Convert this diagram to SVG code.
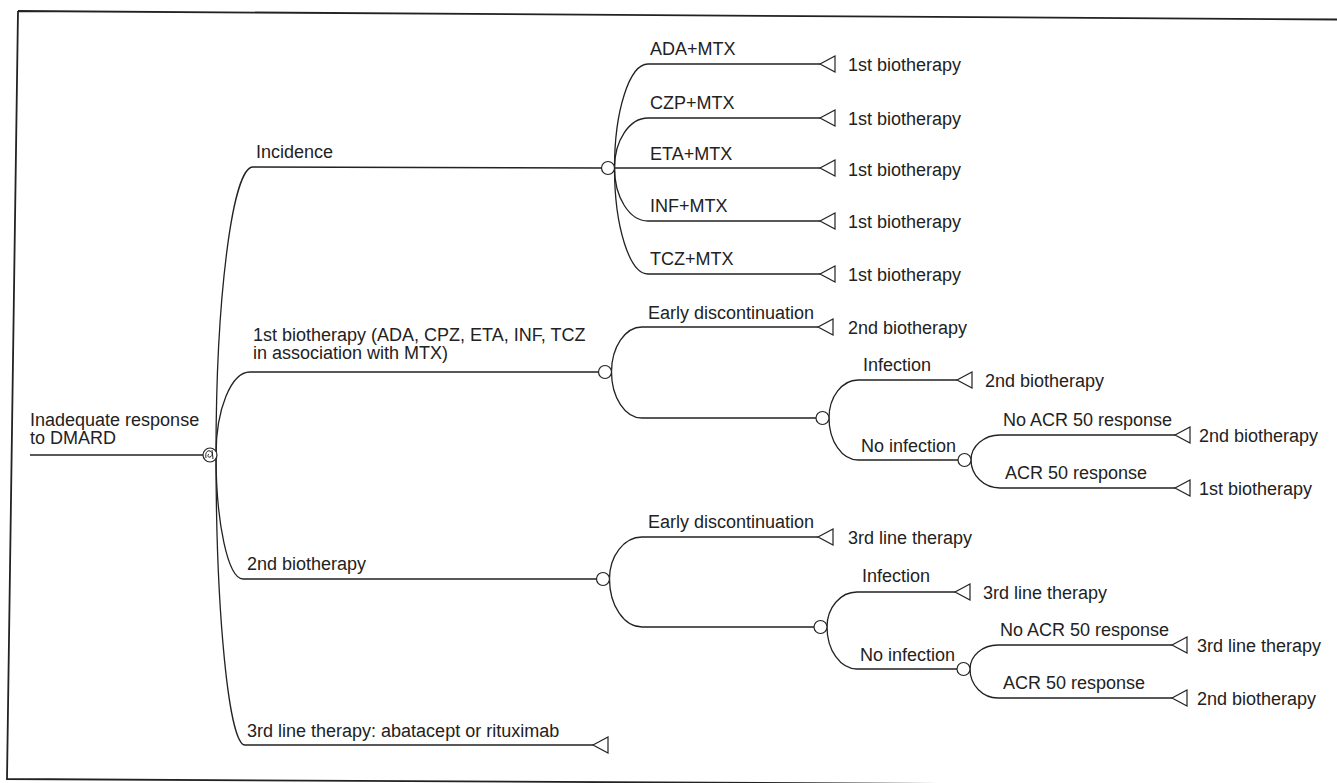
<svg xmlns="http://www.w3.org/2000/svg" width="1337" height="783" viewBox="0 0 1337 783">
<style>
.ln{fill:none;stroke:#222;stroke-width:1.3}
.nd{fill:#fff;stroke:#222;stroke-width:1.2}
.bd{fill:none;stroke:#222;stroke-width:1.8}
.t{font-family:"Liberation Sans",Arial,sans-serif;font-size:18px;fill:#222}
</style>
<defs>
<path id="tri" d="M0,0 L15,-8 L15,8 Z" fill="#fff" stroke="#222" stroke-width="1.2"/>
</defs>
<rect width="1337" height="783" fill="#fff"/>
<path class="bd" d="M18,11 L1337,19.5 M18,11 L7,779 L1337,786"/>

<g id="connectors">
<path class="ln" d="M30,455 H203"/>
<path class="ln" d="M216,455 A37,288 0 0 1 253,167 L601.5,168"/>
<path class="ln" d="M216,455 A34,83 0 0 1 250,372 H598.5"/>
<path class="ln" d="M216,455 A27,124 0 0 0 243,579 H596.5"/>
<path class="ln" d="M216,455 A29,290 0 0 0 245,745 H593"/>

<path class="ln" d="M614.5,168 A33.5,104 0 0 1 648,64 H820"/>
<path class="ln" d="M614.5,168 A33.5,50 0 0 1 648,118 H820"/>
<path class="ln" d="M614.5,168 H820"/>
<path class="ln" d="M614.5,168 A33.5,53 0 0 0 648,221 H820"/>
<path class="ln" d="M614.5,168 A33.5,106 0 0 0 648,274 H820"/>

<path class="ln" d="M611.5,372 A30.5,45 0 0 1 642,327 H818"/>
<path class="ln" d="M611.5,372 A30.5,46 0 0 0 642,418 H816"/>
<path class="ln" d="M829,418 A29,38 0 0 1 858,380 H957"/>
<path class="ln" d="M829,418 A29,42 0 0 0 858,460 H958"/>
<path class="ln" d="M971,460 A29,25 0 0 1 1000,435 H1175"/>
<path class="ln" d="M971,460 A29,28 0 0 0 1000,488 H1175"/>

<path class="ln" d="M609.5,579 A32.5,42 0 0 1 642,537 H818"/>
<path class="ln" d="M609.5,579 A32.5,48 0 0 0 642,627 H814"/>
<path class="ln" d="M827,627 A30,35 0 0 1 857,592 H955"/>
<path class="ln" d="M827,627 A30,42 0 0 0 857,669 H957"/>
<path class="ln" d="M970,669 A28,24 0 0 1 998,645 H1172"/>
<path class="ln" d="M970,669 A28,29 0 0 0 998,698 H1172"/>

<text class="t" x="256" y="158">Incidence</text>
<text class="t" x="253" y="341">1st biotherapy (ADA, CPZ, ETA, INF, TCZ</text>
<text class="t" x="253" y="359">in association with MTX)</text>
<text class="t" x="247" y="570">2nd biotherapy</text>
<text class="t" x="247" y="737">3rd line therapy: abatacept or rituximab</text>

<text class="t" x="650" y="55">ADA+MTX</text>
<text class="t" x="650" y="109">CZP+MTX</text>
<text class="t" x="650" y="160">ETA+MTX</text>
<text class="t" x="650" y="212">INF+MTX</text>
<text class="t" x="650" y="265">TCZ+MTX</text>

<text class="t" x="648" y="319">Early discontinuation</text>
<text class="t" x="863" y="371">Infection</text>
<text class="t" x="861" y="452">No infection</text>
<text class="t" x="1003" y="426">No ACR 50 response</text>
<text class="t" x="1005" y="479">ACR 50 response</text>

<text class="t" x="648" y="528">Early discontinuation</text>
<text class="t" x="862" y="582">Infection</text>
<text class="t" x="860" y="661">No infection</text>
<text class="t" x="1000" y="636">No ACR 50 response</text>
<text class="t" x="1003" y="689">ACR 50 response</text>
</g>

<g id="root">
<text class="t" x="30" y="426">Inadequate response</text>
<text class="t" x="30" y="444">to DMARD</text>
</g>
<g id="markov">
<circle class="nd" cx="210" cy="455" r="7"/>
<path d="M206,458 C205,453 207,450 210,451 C213,452 213,456 210,457 C208,458 207,455 209,454 M212,450 L213,459" fill="none" stroke="#222" stroke-width="1"/>
</g>

<g id="chance-incidence"><circle class="nd" cx="608" cy="168" r="6.5"/></g>
<g id="term-ada"><use href="#tri" x="820" y="64"/><text class="t" x="848" y="71">1st biotherapy</text></g>
<g id="term-czp"><use href="#tri" x="820" y="118"/><text class="t" x="848" y="125">1st biotherapy</text></g>
<g id="term-eta"><use href="#tri" x="820" y="168"/><text class="t" x="848" y="176">1st biotherapy</text></g>
<g id="term-inf"><use href="#tri" x="820" y="221"/><text class="t" x="848" y="228">1st biotherapy</text></g>
<g id="term-tcz"><use href="#tri" x="820" y="274"/><text class="t" x="848" y="281">1st biotherapy</text></g>

<g id="chance-bio1"><circle class="nd" cx="605" cy="372" r="6.5"/></g>
<g id="term-bio1-early"><use href="#tri" x="818" y="327"/><text class="t" x="848" y="334">2nd biotherapy</text></g>
<g id="chance-bio1-cont"><circle class="nd" cx="822.5" cy="418" r="6.5"/></g>
<g id="term-bio1-inf"><use href="#tri" x="957" y="380"/><text class="t" x="985" y="387">2nd biotherapy</text></g>
<g id="chance-bio1-noinf"><circle class="nd" cx="964.5" cy="460" r="6.5"/></g>
<g id="term-bio1-noacr"><use href="#tri" x="1175" y="435"/><text class="t" x="1199" y="442">2nd biotherapy</text></g>
<g id="term-bio1-acr"><use href="#tri" x="1175" y="488"/><text class="t" x="1199" y="495">1st biotherapy</text></g>

<g id="chance-bio2"><circle class="nd" cx="603" cy="579" r="6.5"/></g>
<g id="term-bio2-early"><use href="#tri" x="818" y="537"/><text class="t" x="848" y="544">3rd line therapy</text></g>
<g id="chance-bio2-cont"><circle class="nd" cx="820.5" cy="627" r="6.5"/></g>
<g id="term-bio2-inf"><use href="#tri" x="955" y="592"/><text class="t" x="983" y="599">3rd line therapy</text></g>
<g id="chance-bio2-noinf"><circle class="nd" cx="963.5" cy="669" r="6.5"/></g>
<g id="term-bio2-noacr"><use href="#tri" x="1172" y="645"/><text class="t" x="1197" y="652">3rd line therapy</text></g>
<g id="term-bio2-acr"><use href="#tri" x="1172" y="698"/><text class="t" x="1197" y="705">2nd biotherapy</text></g>

<g id="term-third"><use href="#tri" x="593" y="745"/></g>
</svg>
